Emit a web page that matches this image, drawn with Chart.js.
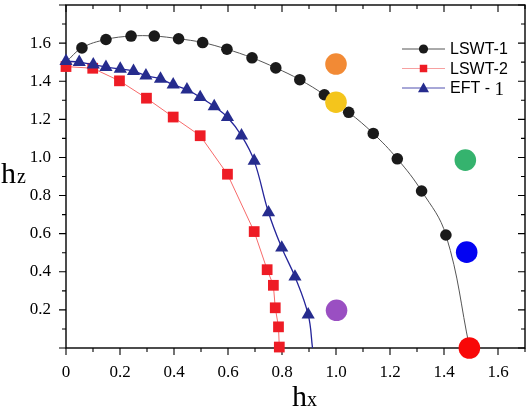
<!DOCTYPE html>
<html>
<head>
<meta charset="utf-8">
<script src="https://cdn.jsdelivr.net/npm/chart.js@4"></script>
<style>
html,body{margin:0;padding:0;background:#fff;}
#wrap{width:526px;height:408px;}
</style>
</head>
<body>
<div id="wrap"><canvas id="c" width="526" height="408"></canvas></div>
<script>
// ---- data ----
const lswt1X = [0, 0.059, 0.148, 0.241, 0.327, 0.417, 0.506, 0.596, 0.689, 0.777, 0.866, 0.957, 1.047, 1.138, 1.227, 1.317, 1.407, 1.495];
const lswt1Y = [1.50, 1.575, 1.619, 1.637, 1.637, 1.623, 1.603, 1.568, 1.523, 1.470, 1.408, 1.329, 1.237, 1.126, 0.993, 0.824, 0.593, 0];

const lswt2X = [0, 0.099, 0.198, 0.298, 0.397, 0.497, 0.598, 0.697, 0.745, 0.768, 0.775, 0.787, 0.790];
const lswt2Y = [1.477, 1.468, 1.402, 1.311, 1.212, 1.114, 0.912, 0.611, 0.411, 0.329, 0.211, 0.111, 0.005];

const eftX = [0, 0.049, 0.101, 0.148, 0.201, 0.250, 0.296, 0.350, 0.397, 0.448, 0.497, 0.549, 0.598, 0.650, 0.697, 0.750, 0.799, 0.848, 0.897, 0.913];
const eftY = [1.505, 1.500, 1.487, 1.474, 1.465, 1.453, 1.429, 1.412, 1.382, 1.356, 1.316, 1.268, 1.211, 1.114, 0.982, 0.711, 0.526, 0.374, 0.175, 0];

const phaseX = [1.0, 1.0, 1.479, 1.484, 1.002, 1.494];
const phaseY = [1.49, 1.29, 0.986, 0.503, 0.198, 0];

const xTicks = [0, 0.2, 0.4, 0.6, 0.8, 1.0, 1.2, 1.4, 1.6];
const yTicks = [0.2, 0.4, 0.6, 0.8, 1.0, 1.2, 1.4, 1.6];
const seriesNames = ['LSWT-1', 'LSWT-2', 'EFT - '];

// ---- styles ----
const phaseColors = ['#f28a35', '#f4c51c', '#35b36e', '#0303f2', '#9a4fc2', '#f80808'];
const toPts = (xs, ys) => xs.map((x, i) => ({x: x, y: ys[i]}));

const frameAndTicks = {
  id: 'frameAndTicks',
  beforeDatasetsDraw(chart) {
    const {ctx, chartArea: a, scales: {x, y}} = chart;
    ctx.save();
    ctx.strokeStyle = '#000';
    ctx.lineWidth = 1.4;
    ctx.strokeRect(a.left, a.top, a.right - a.left, a.bottom - a.top);
    ctx.lineWidth = 1.1;
    ctx.beginPath();
    for (let i = 0; i <= 17; i++) {
      const px = x.getPixelForValue(i / 10);
      const len = i % 2 === 0 ? 7 : 4;
      ctx.moveTo(px, a.bottom); ctx.lineTo(px, a.bottom + len);
      ctx.moveTo(px, a.top); ctx.lineTo(px, a.top + len);
    }
    for (let i = 0; i <= 18; i++) {
      const py = y.getPixelForValue(i / 10);
      const len = i % 2 === 0 ? 7 : 4;
      ctx.moveTo(a.left, py); ctx.lineTo(a.left - len, py);
      ctx.moveTo(a.right, py); ctx.lineTo(a.right - len, py);
    }
    ctx.stroke();
    ctx.restore();
  },
  afterDraw(chart) {
    const {ctx} = chart;
    ctx.save();
    ctx.fillStyle = '#000';
    ctx.textBaseline = 'alphabetic';
    ctx.textAlign = 'left';
    // axis titles
    ctx.font = '30px "Liberation Serif"';
    ctx.fillText('h', 1, 183);
    ctx.fillText('h', 292, 406);
    ctx.font = '20px "Liberation Serif"';
    ctx.fillText('z', 17, 183);
    ctx.fillText('x', 307, 406);
    // legend
    const rows = [49, 68.5, 88];
    const lineCols = ['#555555', '#f7a0a0', '#5050b0'];
    const styles = [
      {pointStyle: 'circle', radius: 4.6, color: '#1a1a1a'},
      {pointStyle: 'rect', radius: 5.3, color: '#ee1c25'},
      {pointStyle: 'triangle', radius: 6.4, color: '#262c8e'}
    ];
    for (let i = 0; i < 3; i++) {
      const yy = rows[i];
      ctx.strokeStyle = lineCols[i];
      ctx.lineWidth = 1;
      ctx.beginPath(); ctx.moveTo(402, yy); ctx.lineTo(445, yy); ctx.stroke();
      ctx.fillStyle = styles[i].color;
      ctx.strokeStyle = styles[i].color;
      Chart.helpers.drawPoint(ctx, {pointStyle: styles[i].pointStyle, radius: styles[i].radius, borderWidth: 0, rotation: 0}, 423.5, yy + (i === 2 ? 1 : 0));
      ctx.fillStyle = '#000';
      ctx.font = '16px "Liberation Sans"';
      ctx.textBaseline = 'middle';
      ctx.fillText(seriesNames[i], 450, yy + 1);
      if (i === 2) {
        const w = ctx.measureText(seriesNames[i]).width;
        ctx.font = '19px "Liberation Serif"';
        ctx.fillText('1', 450 + w, yy + 2);
      }
    }
    ctx.restore();
  }
};

new Chart(document.getElementById('c'), {
  type: 'scatter',
  data: {
    datasets: [
      {
        label: 'phases', data: toPts(phaseX, phaseY), order: 0, clip: false,
        pointRadius: 10.8, pointHoverRadius: 10.8, pointBackgroundColor: phaseColors,
        pointBorderWidth: 0, showLine: false
      },
      {
        label: seriesNames[2] + '1', data: toPts(eftX, eftY), order: 1, clip: false,
        showLine: true, borderColor: '#25259a', borderWidth: 1.3, tension: 0.4,
        pointStyle: 'triangle', pointRadius: eftX.map((v, i) => i === eftX.length - 1 ? 0 : 7.6),
        pointBackgroundColor: '#262c8e', pointBorderColor: '#262c8e', pointBorderWidth: 0
      },
      {
        label: seriesNames[1], data: toPts(lswt2X, lswt2Y), order: 2, clip: false,
        showLine: true, borderColor: '#f76a6a', borderWidth: 1, tension: 0,
        pointStyle: 'rect', pointRadius: 7.6,
        pointBackgroundColor: '#ee1c25', pointBorderColor: '#ee1c25', pointBorderWidth: 0
      },
      {
        label: seriesNames[0], data: toPts(lswt1X, lswt1Y), order: 3, clip: false,
        showLine: true, borderColor: '#555555', borderWidth: 1, tension: 0.4,
        pointStyle: 'circle', pointRadius: lswt1X.map((v, i) => i === 0 ? 0 : 5.8),
        pointBackgroundColor: '#1a1a1a', pointBorderColor: '#1a1a1a', pointBorderWidth: 0
      }
    ]
  },
  options: {
    responsive: false,
    animation: false,
    devicePixelRatio: 1,
    layout: {autoPadding: false, padding: {top: 5, right: 1, left: 0, bottom: 0}},
    plugins: {legend: {display: false}, tooltip: {enabled: false}},
    events: [],
    scales: {
      x: {
        type: 'linear', position: 'bottom', min: 0, max: 1.7,
        afterFit(s) { s.height = 60; s.paddingLeft = 0; s.paddingRight = 0; },
        afterBuildTicks(s) { s.ticks = xTicks.map(v => ({value: v})); },
        grid: {display: false, drawTicks: false},
        border: {display: false},
        ticks: {
          padding: 14, color: '#000', font: {family: 'Liberation Serif', size: 17},
          maxRotation: 0, autoSkip: false,
          callback: v => (v === 0 ? '0' : Number(v).toFixed(1))
        }
      },
      y: {
        type: 'linear', position: 'left', min: 0, max: 1.8,
        afterFit(s) { s.width = 66; s.paddingTop = 0; s.paddingBottom = 0; },
        afterBuildTicks(s) { s.ticks = yTicks.map(v => ({value: v})); },
        grid: {display: false, drawTicks: false},
        border: {display: false},
        ticks: {
          padding: 15, color: '#000', font: {family: 'Liberation Serif', size: 17},
          autoSkip: false,
          callback: v => Number(v).toFixed(1)
        }
      }
    }
  },
  plugins: [frameAndTicks]
});
</script>
</body>
</html>
